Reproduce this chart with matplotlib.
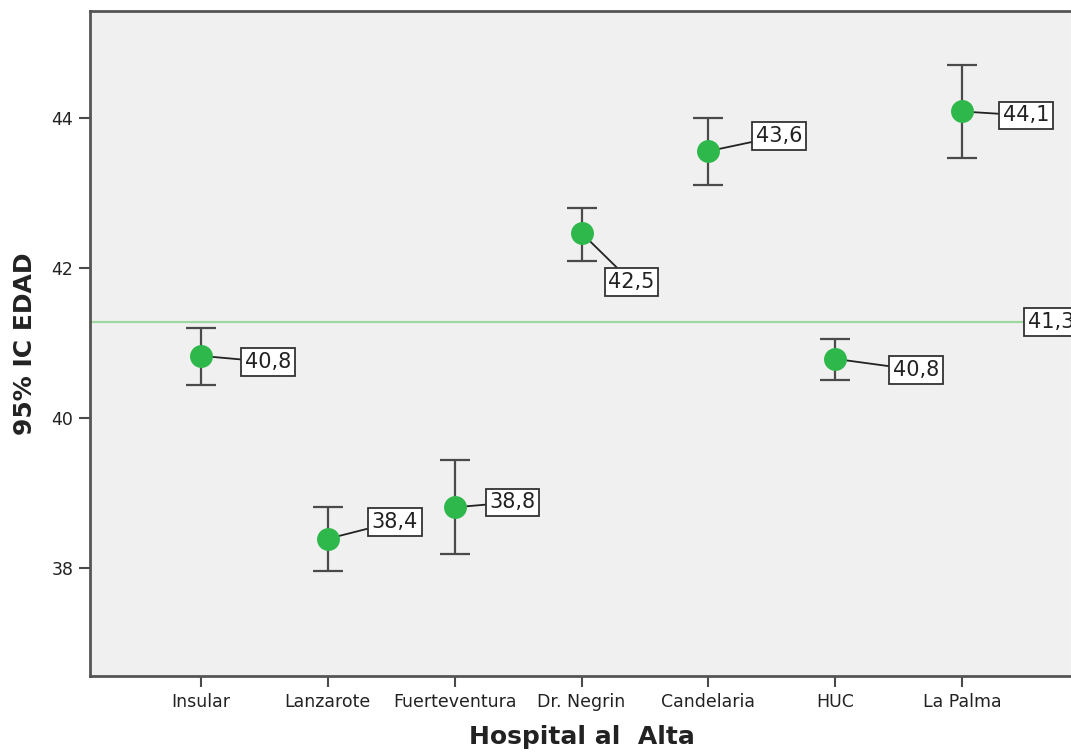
import matplotlib
matplotlib.use('Agg')
import matplotlib.pyplot as plt
import numpy as np

matplotlib.rc('font', family='DejaVu Sans')

# data
hospitals = ['Insular', 'Lanzarote', 'Fuerteventura', 'Dr. Negrin', 'Candelaria', 'HUC', 'La Palma']
means = [40.83, 38.39, 38.81, 42.47, 43.56, 40.79, 44.09]
ci_low = [40.44, 37.96, 38.19, 42.10, 43.11, 40.51, 43.47]
ci_high = [41.20, 38.81, 39.44, 42.80, 44.00, 41.05, 44.71]
overall_mean = 41.28

# label offsets in pixels (dx, dy), dy positive = up
label_offsets = [(67, -6), (67, 17), (58, 5), (50, -49), (71, 15), (81, -11), (64, -4)]

green = '#2eb84b'
dark = '#4a4a4a'

fig = plt.figure(figsize=(10.71, 7.55), dpi=100)
ax = fig.add_axes([90 / 1071, 1 - 676 / 755, (1073 - 90) / 1071, (676 - 11) / 755])
ax.set_facecolor('#f0f0f0')

x = np.arange(len(hospitals))
yerr = [np.array(means) - np.array(ci_low), np.array(ci_high) - np.array(means)]

ax.axhline(overall_mean, color='#9fd89f', lw=1.6, zorder=1)

ax.errorbar(x, means, yerr=yerr, fmt='none', ecolor=dark, elinewidth=1.6,
            capsize=11, capthick=1.6, zorder=2)
ax.plot(x, means, 'o', color=green, markersize=16.5, markeredgewidth=0, zorder=5)

bbox = dict(boxstyle='square,pad=0.18', facecolor='white', edgecolor='#333333', lw=1.3)
for xi, m, (dx, dy) in zip(x, means, label_offsets):
    ax.annotate(f'{m:.1f}'.replace('.', ','), xy=(xi, m), xytext=(dx, dy),
                textcoords='offset pixels', ha='center', va='center',
                fontsize=15, color='#222222', bbox=bbox,
                arrowprops=dict(arrowstyle='-', color='#222222', lw=1.3,
                                shrinkA=0, shrinkB=6),
                zorder=4)

ax.text(6.52, overall_mean, f'{overall_mean:.1f}'.replace('.', ','), ha='left', va='center',
        fontsize=15, color='#222222', bbox=bbox, zorder=4, clip_on=False)

ax.set_xlim(-0.875, 6.875)
ax.set_ylim(36.56, 45.43)
ax.set_xticks(x)
ax.set_xticklabels(hospitals)
ax.set_yticks([38, 40, 42, 44])
ax.set_yticklabels(['38', '40', '42', '44'])
ax.tick_params(axis='both', direction='out', length=8, width=1.5, color=dark,
               labelsize=12.5, labelcolor='#222222', pad=4)

for side in ['left', 'bottom', 'top', 'right']:
    ax.spines[side].set_color('#555555')
    ax.spines[side].set_linewidth(2)

ax.set_xlabel('Hospital al  Alta', fontsize=18, fontweight='bold', color='#222222', labelpad=10)
ax.set_ylabel('95% IC EDAD', fontsize=18, fontweight='bold', color='#222222', labelpad=10)

fig.savefig('out.png', dpi=100)
